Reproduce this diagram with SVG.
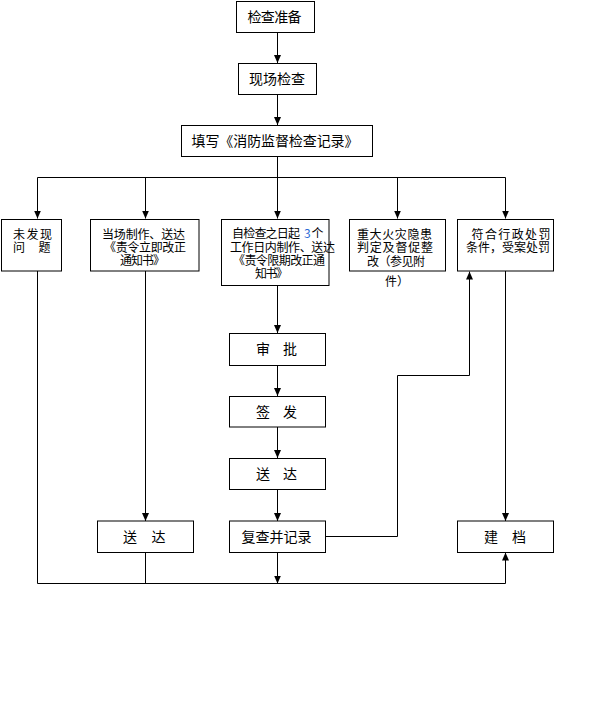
<svg xmlns="http://www.w3.org/2000/svg" width="596" height="718" viewBox="0 0 596 718">
<style>
rect.b{fill:#fff;stroke:#000;stroke-width:1}
.c{fill:none;stroke:#000;stroke-width:1}
text{font-family:"Noto Sans CJK SC","Noto Sans CJK JP",sans-serif;fill:#000}
.t14{font-size:14px}
.t12{font-size:12px}
.blue{fill:#2a6bd6}
</style>
<defs>
<marker id="ah" markerUnits="userSpaceOnUse" markerWidth="8" markerHeight="8" refX="8" refY="4" orient="auto">
<path d="M0,0.5 L8,4 L0,7.5 z" fill="#000"/>
</marker>
</defs>
<rect width="596" height="718" fill="#fff"/>
<g id="connectors">
<path class="c" d="M277.5,32.5 V63" marker-end="url(#ah)"/>
<path class="c" d="M277.5,94.5 V125" marker-end="url(#ah)"/>
<path class="c" d="M277.5,156.5 V177.5 M37.5,177.5 H505.5"/>
<path class="c" d="M37.5,177.5 V218.5" marker-end="url(#ah)"/>
<path class="c" d="M145.5,177.5 V218.5" marker-end="url(#ah)"/>
<path class="c" d="M277.5,177.5 V218.5" marker-end="url(#ah)"/>
<path class="c" d="M397.5,177.5 V218.5" marker-end="url(#ah)"/>
<path class="c" d="M505.5,177.5 V218.5" marker-end="url(#ah)"/>
<path class="c" d="M37.5,271 V583.5 H505.5"/>
<path class="c" d="M145.5,271 V521" marker-end="url(#ah)"/>
<path class="c" d="M145.5,552.5 V583.5"/>
<path class="c" d="M277.5,285.5 V333" marker-end="url(#ah)"/>
<path class="c" d="M277.5,365.5 V396" marker-end="url(#ah)"/>
<path class="c" d="M277.5,427 V458" marker-end="url(#ah)"/>
<path class="c" d="M277.5,489.5 V521" marker-end="url(#ah)"/>
<path class="c" d="M277.5,552.5 V583.5" marker-end="url(#ah)"/>
<path class="c" d="M325.5,536.5 H397.5 V375.5 H469.5 V271.5" marker-end="url(#ah)"/>
<path class="c" d="M505.5,271 V521" marker-end="url(#ah)"/>
<path class="c" d="M505.5,583.5 V552.5" marker-end="url(#ah)"/>
</g>
<g id="n1">
<rect class="b" x="236.5" y="1.5" width="78" height="31"/>
<text class="t14" x="247.5" y="22" textLength="54">检查准备</text>
</g>
<g id="n2">
<rect class="b" x="238.5" y="63.5" width="78" height="31"/>
<text class="t14" x="249" y="84" textLength="56">现场检查</text>
</g>
<g id="n3">
<rect class="b" x="181.5" y="125.5" width="191" height="31"/>
<text class="t14" x="191.5" y="145.5" textLength="167">填写《消防监督检查记录》</text>
</g>
<g id="n4">
<rect class="b" x="1.5" y="219.5" width="60" height="51.5"/>
<text class="t12"><tspan x="13" y="238.5" textLength="39">未发现</tspan><tspan x="13 38.5" y="252">问题</tspan></text>
</g>
<g id="n5">
<rect class="b" x="90.5" y="219.5" width="108.5" height="51.5"/>
<text class="t12"><tspan x="102" y="238.5" textLength="83">当场制作、送达</tspan><tspan x="104" y="252" textLength="82">《责令立即改正</tspan><tspan x="120" y="265" textLength="45">通知书》</tspan></text>
</g>
<g id="n6">
<rect class="b" x="221.5" y="219.5" width="107.5" height="66"/>
<text class="t12"><tspan x="232" y="238" textLength="68">自检查之日起</tspan><tspan x="304" y="238" class="blue">3</tspan><tspan x="311.5" y="238">个</tspan><tspan x="230" y="251.5" textLength="105">工作日内制作、送达</tspan><tspan x="233" y="265" textLength="92">《责令限期改正通</tspan><tspan x="255" y="278" textLength="33">知书》</tspan></text>
</g>
<g id="n7">
<rect class="b" x="349.5" y="219.5" width="96" height="51.5"/>
<text class="t12"><tspan x="357" y="238.5" textLength="75">重大火灾隐患</tspan><tspan x="357" y="252" textLength="76">判定及督促整</tspan><tspan x="367" y="266" textLength="58">改（参见附</tspan><tspan x="385" y="286" textLength="24">件）</tspan></text>
</g>
<g id="n8">
<rect class="b" x="457.5" y="219.5" width="96" height="51.5"/>
<text class="t12"><tspan x="471.5" y="238.5" textLength="79">符合行政处罚</tspan><tspan x="466" y="252" textLength="84">条件，受案处罚</tspan></text>
</g>
<g id="n9">
<rect class="b" x="229.5" y="333.5" width="96" height="32"/>
<text class="t14" x="256 283" y="354">审批</text>
</g>
<g id="n10">
<rect class="b" x="229.5" y="396.5" width="96" height="30.5"/>
<text class="t14" x="256 283" y="416.5">签发</text>
</g>
<g id="n11">
<rect class="b" x="229.5" y="458.5" width="96" height="31"/>
<text class="t14" x="256 283" y="479">送达</text>
</g>
<g id="n12">
<rect class="b" x="229.5" y="521" width="96" height="31.5"/>
<text class="t14" x="241.5" y="541.5" textLength="70">复查并记录</text>
</g>
<g id="n13">
<rect class="b" x="97.5" y="521" width="96" height="31.5"/>
<text class="t14" x="123 151.5" y="541.5">送达</text>
</g>
<g id="n14">
<rect class="b" x="457.5" y="521" width="96" height="31.5"/>
<text class="t14" x="484 512" y="541.5">建档</text>
</g>
</svg>
